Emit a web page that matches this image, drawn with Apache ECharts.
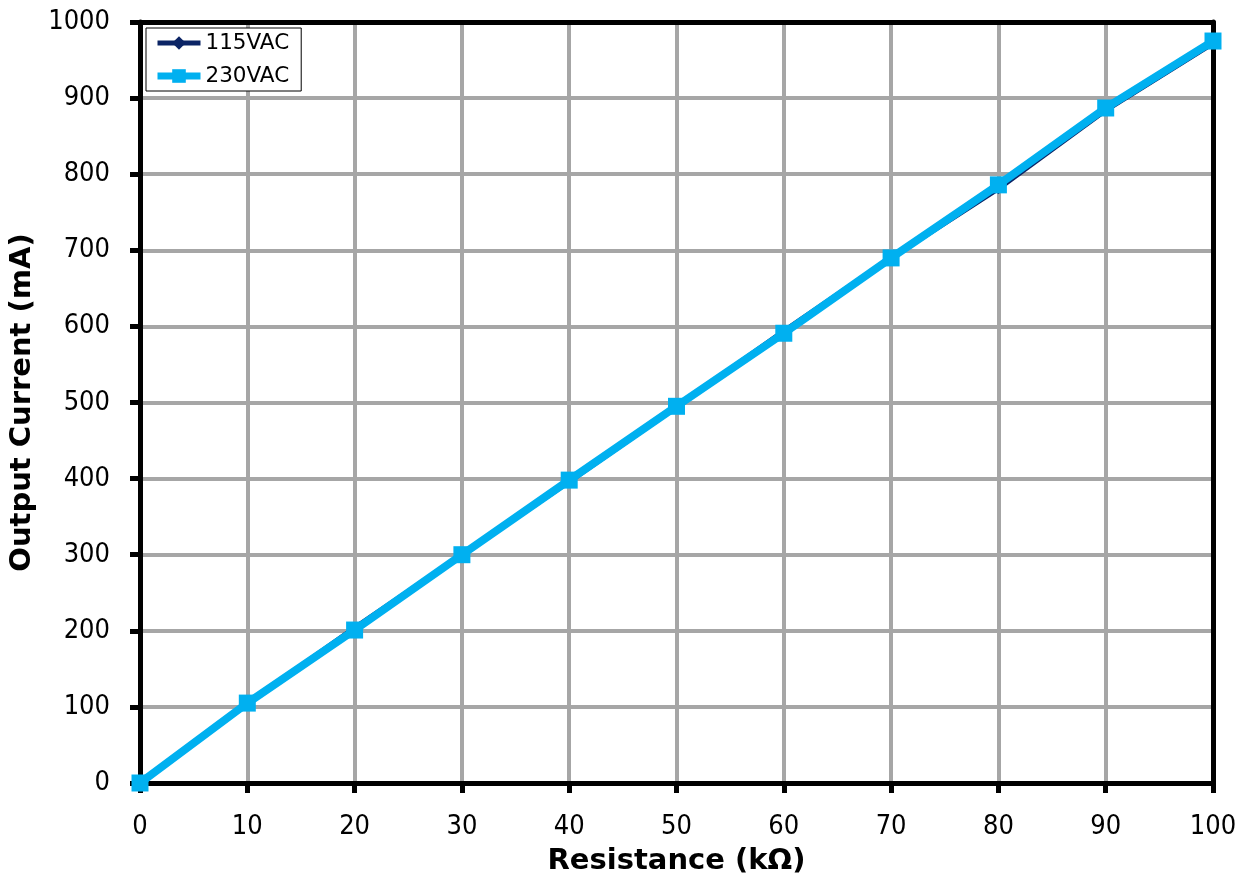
<!DOCTYPE html>
<html>
<head>
<meta charset="utf-8">
<script src="https://cdn.jsdelivr.net/npm/echarts@6/dist/echarts.min.js"></script>
<style>
  html, body { margin: 0; padding: 0; background: #fff; }
  #chart { width: 1256px; height: 890px; }
</style>
</head>
<body>
<div id="chart"></div>
<script>
// Resistance setting (kΩ) versus output current (mA)
const resistance = [0, 10, 20, 30, 40, 50, 60, 70, 80, 90, 100];
const current115 = [0, 104, 204, 300, 396, 494, 594, 690, 781, 884, 972];
const current230 = [0, 105, 201, 300, 398, 495, 591, 690, 786, 887, 975];

const LABEL_FONT = '"DejaVu Sans Condensed", "DejaVu Sans", sans-serif';
const TITLE_FONT = '"DejaVu Sans", sans-serif';
const NAVY = '#0b2465';
const CYAN = '#00b0f0';

const pairs = (ys) => resistance.map((x, i) => [x, ys[i]]);

// top and right edges of the plot frame
const frameAxis = {
  axisLine: { show: true, onZero: false, lineStyle: { color: '#000', width: 5 } },
  axisTick: { show: false },
  axisLabel: { show: false },
  splitLine: { show: false }
};

const chart = echarts.init(document.getElementById('chart'), null, { renderer: 'canvas' });

chart.setOption({
  backgroundColor: '#fff',
  animation: false,
  grid: { left: 140, right: 43, top: 22, bottom: 107 },
  legend: {
    left: 146, top: 28,
    orient: 'vertical',
    backgroundColor: '#fff',
    borderColor: '#000', borderWidth: 1, borderRadius: 0,
    padding: [4, 12, 4, 8],
    itemGap: 11,
    itemWidth: 43, itemHeight: 17,
    textStyle: { fontFamily: TITLE_FONT, fontSize: 21.5, color: '#000' },
    data: [
      { name: '115VAC', lineStyle: { width: 5 } },
      { name: '230VAC', lineStyle: { width: 7 } }
    ]
  },
  xAxis: [
    {
      type: 'value', min: 0, max: 100, interval: 10,
      name: 'Resistance (kΩ)', nameLocation: 'middle', nameGap: 64,
      nameTextStyle: { fontFamily: TITLE_FONT, fontSize: 29, fontWeight: 'bold', color: '#000' },
      axisLine: { show: true, onZero: false, lineStyle: { color: '#000', width: 5 } },
      axisTick: { show: true, length: 10, lineStyle: { color: '#000', width: 5 } },
      axisLabel: { fontFamily: LABEL_FONT, fontSize: 27, color: '#000', margin: 30 },
      splitLine: { show: true, lineStyle: { color: '#a6a6a6', width: 4 } }
    },
    Object.assign({ type: 'value', position: 'top', min: 0, max: 100 }, frameAxis)
  ],
  yAxis: [
    {
      type: 'value', min: 0, max: 1000, interval: 100,
      name: 'Output Current (mA)', nameLocation: 'middle', nameGap: 93,
      nameTextStyle: { fontFamily: TITLE_FONT, fontSize: 29, fontWeight: 'bold', color: '#000' },
      axisLine: { show: true, onZero: false, lineStyle: { color: '#000', width: 5 } },
      axisTick: { show: true, length: 10, lineStyle: { color: '#000', width: 5 } },
      axisLabel: { fontFamily: LABEL_FONT, fontSize: 27, color: '#000', margin: 30,
                   formatter: (v) => String(v) },
      splitLine: { show: true, lineStyle: { color: '#a6a6a6', width: 4 } }
    },
    Object.assign({ type: 'value', position: 'right', min: 0, max: 1000 }, frameAxis)
  ],
  series: [
    {
      name: '115VAC', type: 'line', data: pairs(current115),
      symbol: 'diamond', symbolSize: 11,
      lineStyle: { color: NAVY, width: 5 },
      itemStyle: { color: NAVY },
      z: 3
    },
    {
      name: '230VAC', type: 'line', data: pairs(current230),
      symbol: 'rect', symbolSize: 17,
      lineStyle: { color: CYAN, width: 8 },
      itemStyle: { color: CYAN },
      z: 4
    }
  ]
});
</script>
</body>
</html>
